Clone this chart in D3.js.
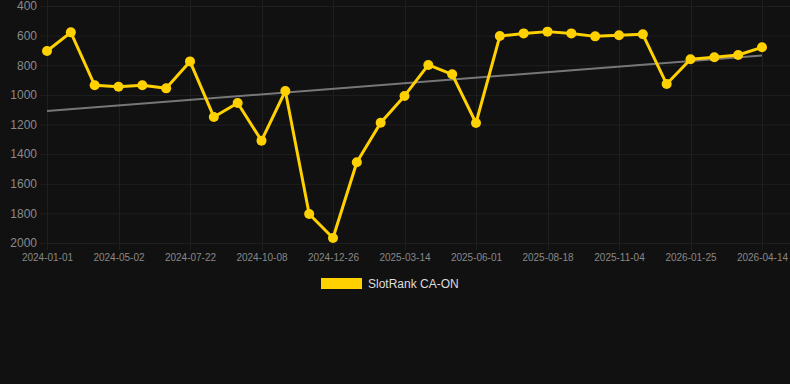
<!DOCTYPE html>
<html>
<head>
<meta charset="utf-8">
<script src="https://cdn.jsdelivr.net/npm/d3@7"></script>
<style>
  html, body { margin: 0; padding: 0; background: #111111; }
  svg { display: block; }
</style>
</head>
<body>
<div id="chart"></div>
<script>
// dates on the category axis (only every 3rd is labelled)
const dates = [
    '2024-01-01', '2024-02-10', '2024-03-22', '2024-05-02', '2024-05-29', '2024-06-25',
    '2024-07-22', '2024-08-18', '2024-09-12', '2024-10-08', '2024-11-03', '2024-11-30',
    '2024-12-26', '2025-01-21', '2025-02-16', '2025-03-14', '2025-04-09', '2025-05-06',
    '2025-06-01', '2025-06-27', '2025-07-23', '2025-08-18', '2025-09-13', '2025-10-09',
    '2025-11-04', '2025-11-30', '2025-12-28', '2026-01-25', '2026-02-20', '2026-03-19',
    '2026-04-14'
];
const ranks = [
    704, 578, 935, 945, 935, 956, 774, 1149, 1055, 1309,
    974, 1804, 1966, 1455, 1188, 1007, 798, 861, 1190, 603,
    585, 573, 585, 605, 598, 591, 927, 760, 746, 731,
    679
];
const yTicks = [400, 600, 800, 1000, 1200, 1400, 1600, 1800, 2000];
const seriesName = 'SlotRank CA-ON';

const W = 790, H = 384;
const gold = '#ffd100';

const svg = d3.select('#chart').append('svg')
    .attr('width', W)
    .attr('height', H)
    .style('background', '#111111');

const x = d3.scalePoint()
    .domain(dates)
    .range([47, 762]);

const y = d3.scaleLinear()
    .domain([400, 2000])
    .range([6, 243]);

// horizontal grid
svg.append('g')
    .selectAll('line')
    .data(yTicks)
    .join('line')
    .attr('x1', 40).attr('x2', W)
    .attr('y1', d => y(d) + 0.5).attr('y2', d => y(d) + 0.5)
    .attr('stroke', '#1f1f1f');

// vertical grid at labelled dates
const shown = dates.filter((d, i) => i % 3 === 0);
svg.append('g')
    .selectAll('line')
    .data(shown)
    .join('line')
    .attr('x1', d => Math.round(x(d)) + 0.5).attr('x2', d => Math.round(x(d)) + 0.5)
    .attr('y1', 0).attr('y2', 250)
    .attr('stroke', '#1f1f1f');

// y axis labels
const yAxis = svg.append('g')
    .attr('transform', 'translate(37,0)')
    .call(d3.axisLeft(y).tickValues(yTicks).tickSize(0).tickPadding(0).tickFormat(d3.format('d')));
yAxis.select('.domain').remove();
yAxis.selectAll('text')
    .attr('fill', '#8a8a8a')
    .style('font', '12px "Liberation Sans", Arial, sans-serif');

// x axis labels
const xAxis = svg.append('g')
    .attr('transform', 'translate(0,254)')
    .call(d3.axisBottom(x).tickValues(shown).tickSize(0).tickPadding(0));
xAxis.select('.domain').remove();
xAxis.selectAll('text')
    .attr('fill', '#888')
    .style('font', '10px "Liberation Sans", Arial, sans-serif');

// least squares trend line
const n = ranks.length;
const mi = d3.mean(ranks, (d, i) => i);
const mv = d3.mean(ranks);
const slope = d3.sum(ranks, (d, i) => (i - mi) * (d - mv)) / d3.sum(ranks, (d, i) => (i - mi) * (i - mi));
const trend = [0, n - 1].map(i => ({ date: dates[i], value: mv + slope * (i - mi) }));

svg.append('path')
    .datum(trend)
    .attr('fill', 'none')
    .attr('stroke', '#777')
    .attr('stroke-width', 2)
    .attr('d', d3.line().x(d => x(d.date)).y(d => y(d.value)));

// series line
const pts = dates.map((d, i) => ({ date: d, value: ranks[i] }));
svg.append('path')
    .datum(pts)
    .attr('fill', 'none')
    .attr('stroke', gold)
    .attr('stroke-width', 3)
    .attr('stroke-linejoin', 'round')
    .attr('d', d3.line().x(d => x(d.date)).y(d => y(d.value)));

svg.append('g')
    .selectAll('circle')
    .data(pts)
    .join('circle')
    .attr('cx', d => x(d.date))
    .attr('cy', d => y(d.value))
    .attr('r', 5)
    .attr('fill', gold);

// legend
const legend = svg.append('g');
legend.append('rect')
    .attr('x', 321).attr('y', 278)
    .attr('width', 41).attr('height', 11)
    .attr('fill', gold);
legend.append('text')
    .attr('x', 368).attr('y', 288)
    .attr('fill', '#ddd')
    .style('font', '12px "Liberation Sans", Arial, sans-serif')
    .text(seriesName);
</script>
</body>
</html>
